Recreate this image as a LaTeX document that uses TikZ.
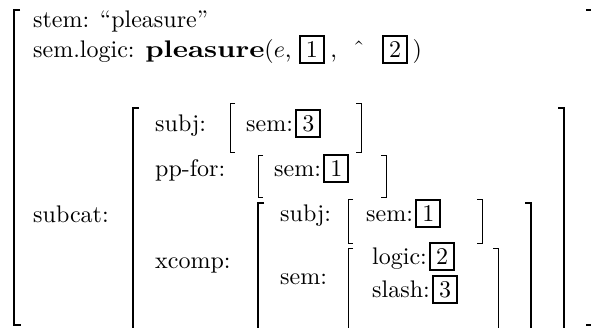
\documentclass[tikz,border=0pt]{standalone}
\newcommand\tx[1]{\scalebox{2.4}{#1}}
\tikzset{
  txt/.style={anchor=base west, inner sep=0pt},
  numbox/.style={draw, line width=2.2pt, anchor=base west, inner xsep=6pt, inner ysep=4.5pt,
    text height=16.5pt, text depth=1.5pt},
  bigbr/.style={line width=2.4pt},
  smallbr/.style={line width=1pt}
}
\begin{document}
\begin{tikzpicture}[x=1pt,y=-1pt]
\useasboundingbox (0,0) rectangle (591,327);
\clip (0,0) rectangle (591,327);
% outer bracket
\draw[bigbr] (20,10) -- (14,10) -- (14,325) -- (21,325);
\draw[bigbr] (586,10) -- (593,10) -- (593,325) -- (586,325);
% top rows
\node[txt] (stem) at (33,27) {\tx{stem: “pleasure”}};
\node[txt] (semlogic) at (33,57) {\tx{sem.logic: \scalebox{1.2}[1]{\textbf{pleasure}}($e$,}};
\node[numbox] (b1) at ([xshift=7pt]semlogic.base east) {\tx{1}};
\node[txt] (and) at ([xshift=5pt]b1.base east) {\tx{,\ \ ˆ}};
\node[numbox] (b2) at ([xshift=17pt]and.base east) {\tx{2}};
\node[txt] (rparen) at ([xshift=4pt]b2.base east) {\tx{)}};
% subcat
\node[txt] (subcat) at (33,222) {\tx{subcat:}};
\draw[bigbr] (139,108) -- (133,108) -- (133,335);
\draw[bigbr] (558,108) -- (564,108) -- (564,335);
% subj row
\node[txt] (subj) at (155,131) {\tx{subj:}};
\draw[smallbr] (235,103) -- (230,103) -- (230,152) -- (235,152);
\node[txt] (sem1) at (246,131) {\tx{sem:}};
\node[numbox] (b3) at ([xshift=2pt]sem1.base east) {\tx{3}};
\draw[smallbr] (356,103) -- (361,103) -- (361,152) -- (356,152);
% pp-for row
\node[txt] (ppfor) at (155,176) {\tx{pp-for:}};
\draw[smallbr] (263,155) -- (258,155) -- (258,197) -- (263,197);
\node[txt] (sem2) at (274,176) {\tx{sem:}};
\node[numbox] (b4) at ([xshift=2pt]sem2.base east) {\tx{1}};
\draw[smallbr] (381,155) -- (386,155) -- (386,197) -- (381,197);
% xcomp
\node[txt] (xcomp) at (155,268) {\tx{xcomp:}};
\draw[bigbr] (264,203) -- (258,203) -- (258,335);
\draw[bigbr] (525,203) -- (531,203) -- (531,335);
\node[txt] (subj2) at (280,221) {\tx{subj:}};
\draw[smallbr] (353,199) -- (348,199) -- (348,243) -- (353,243);
\node[txt] (sem3) at (366,221) {\tx{sem:}};
\node[numbox] (b5) at ([xshift=2pt]sem3.base east) {\tx{1}};
\draw[smallbr] (477,199) -- (482,199) -- (482,243) -- (477,243);
\node[txt] (sem4) at (280,284) {\tx{sem:}};
\draw[smallbr] (353,248) -- (348,248) -- (348,335);
\draw[smallbr] (493,248) -- (498,248) -- (498,335);
\node[txt] (logic) at (372,264) {\tx{logic:}};
\node[numbox] (b6) at ([xshift=2pt]logic.base east) {\tx{2}};
\node[txt] (slash) at (372,297) {\tx{slash:}};
\node[numbox] (b7) at ([xshift=2pt]slash.base east) {\tx{3}};
\end{tikzpicture}
\end{document}
